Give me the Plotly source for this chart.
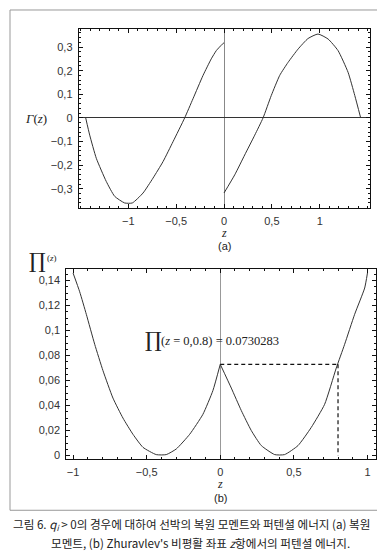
import plotly.graph_objects as go

# ---------------- data ----------------
# (a) restoring moment Gamma(z), two branches (jump at z = 0)
Z_GAMMA_NEG = [-1.445, -1.403, -1.334, -1.230, -1.142, -1.038, -0.958, -0.846, -0.742,
               -0.637, -0.533, -0.411, -0.324, -0.219, -0.133, -0.080, -0.018, 0.0]
GAMMA_NEG = [0.0, -0.073, -0.171, -0.269, -0.332, -0.360, -0.360, -0.318, -0.255,
             -0.185, -0.101, 0.0, 0.081, 0.180, 0.250, 0.285, 0.312, 0.318]
Z_GAMMA_POS = [0.0, 0.112, 0.216, 0.321, 0.408, 0.494, 0.582, 0.669, 0.773,
               0.878, 0.982, 1.087, 1.191, 1.296, 1.366, 1.428]
GAMMA_POS = [-0.318, -0.241, -0.157, -0.073, 0.0, 0.095, 0.180, 0.235, 0.291,
             0.336, 0.355, 0.334, 0.285, 0.193, 0.095, 0.0]

# (b) potential energy Pi(z), two branches (cusp at z = 0)
Z_PI_NEG = [-1.0, -0.955, -0.910, -0.853, -0.797, -0.729, -0.661, -0.593, -0.525,
            -0.435, -0.367, -0.299, -0.208, -0.118, -0.050, 0.0]
PI_NEG = [0.146, 0.131, 0.113, 0.089, 0.068, 0.046, 0.030, 0.017, 0.0066,
          0.0008, 0.0008, 0.0053, 0.017, 0.033, 0.052, 0.0730]
Z_PI_POS = [0.0, 0.075, 0.143, 0.211, 0.279, 0.370, 0.437, 0.528, 0.618,
            0.709, 0.788, 0.845, 0.913, 0.981, 1.0]
PI_POS = [0.0730, 0.054, 0.036, 0.020, 0.008, 0.0008, 0.0008, 0.008, 0.0225,
          0.041, 0.070, 0.089, 0.113, 0.134, 0.146]

PI_AT_ZERO = 0.0730283
Z_MARK = 0.8

# tick labels
GAMMA_X_TICKS = [-1, -0.5, 0, 0.5, 1]
GAMMA_X_LABELS = ["−1", "−0,5", "0", "0,5", "1"]
GAMMA_Y_TICKS = [-0.3, -0.2, -0.1, 0, 0.1, 0.2, 0.3]
GAMMA_Y_LABELS = ["−0,3", "−0,2", "−0,1", "0", "0,1", "0,2", "0,3"]
PI_X_TICKS = [-1, -0.5, 0, 0.5, 1]
PI_X_LABELS = ["−1", "−0,5", "0", "0,5", "1"]
PI_Y_TICKS = [0, 0.02, 0.04, 0.06, 0.08, 0.1, 0.12, 0.14]
PI_Y_LABELS = ["0", "0,02", "0,04", "0,06", "0,08", "0,1", "0,12", "0,14"]

CAPTION_1 = "그림 6. <i>q<sub>i</sub></i> > 0의 경우에 대하여 선박의 복원 모멘트와 퍼텐셜 에너지 (a) 복원"
CAPTION_2 = "모멘트, (b) Zhuravlev's 비평활 좌표 <i>z</i>항에서의 퍼텐셜 에너지."

# ---------------- figure ----------------
W, H = 385, 556
CURVE = dict(color="#333333", width=1, shape="spline", smoothing=0.5)

fig = go.Figure()
fig.add_trace(go.Scatter(x=Z_GAMMA_NEG, y=GAMMA_NEG, mode="lines", line=CURVE, xaxis="x", yaxis="y"))
fig.add_trace(go.Scatter(x=Z_GAMMA_POS, y=GAMMA_POS, mode="lines", line=CURVE, xaxis="x", yaxis="y"))
fig.add_trace(go.Scatter(x=Z_PI_NEG, y=PI_NEG, mode="lines", line=CURVE, xaxis="x2", yaxis="y2"))
fig.add_trace(go.Scatter(x=Z_PI_POS, y=PI_POS, mode="lines", line=CURVE, xaxis="x2", yaxis="y2"))
DASH = dict(color="#111111", width=1.2, dash="4px,3px")
fig.add_trace(go.Scatter(x=[0, Z_MARK], y=[PI_AT_ZERO, PI_AT_ZERO], mode="lines", line=DASH,
                         xaxis="x2", yaxis="y2"))
fig.add_trace(go.Scatter(x=[Z_MARK, Z_MARK], y=[PI_AT_ZERO, 0], mode="lines", line=DASH,
                         xaxis="x2", yaxis="y2"))

TICKFONT = dict(family="Liberation Sans, Arial, sans-serif", size=11, color="#333333")


def frame_axis(**kw):
    base = dict(showline=True, linecolor="#111111", linewidth=1, mirror="allticks",
                ticks="inside", ticklen=4, tickcolor="#111111", tickwidth=1,
                tickmode="array", tickfont=TICKFONT, showgrid=False, fixedrange=True,
                ticklabelstandoff=3)
    base.update(kw)
    return base


fig.update_layout(
    width=W, height=H, margin=dict(l=0, r=0, t=0, b=0),
    paper_bgcolor="white", plot_bgcolor="white", showlegend=False,
    xaxis=frame_axis(domain=[70.7 / W, 361.7 / W], range=[-1.518, 1.522], anchor="y",
                     tickvals=GAMMA_X_TICKS, ticktext=GAMMA_X_LABELS,
                     zeroline=True, zerolinecolor="#888888", zerolinewidth=1,
                     minor=dict(ticks="inside", ticklen=2, tickcolor="#111111", tick0=0, dtick=0.1)),
    yaxis=frame_axis(domain=[1 - 201 / H, 1 - 20.7 / H], range=[-0.381, 0.378], anchor="x",
                     tickvals=GAMMA_Y_TICKS, ticktext=GAMMA_Y_LABELS,
                     zeroline=True, zerolinecolor="#333333", zerolinewidth=1,
                     minor=dict(ticks="inside", ticklen=2, tickcolor="#111111", tick0=0, dtick=0.02)),
    xaxis2=frame_axis(domain=[58.3 / W, 367.7 / W], range=[-1.046, 1.056], anchor="y2",
                      tickvals=PI_X_TICKS, ticktext=PI_X_LABELS,
                      zeroline=True, zerolinecolor="#999999", zerolinewidth=1,
                      minor=dict(ticks="inside", ticklen=2, tickcolor="#111111", tick0=0, dtick=0.1)),
    yaxis2=frame_axis(domain=[1 - 453.3 / H, 1 - 262.7 / H], range=[-0.0026, 0.149], anchor="x2",
                      tickvals=PI_Y_TICKS, ticktext=PI_Y_LABELS, zeroline=False,
                      minor=dict(ticks="inside", ticklen=2, tickcolor="#111111", tick0=0, dtick=0.005)),
)

SERIF = "Liberation Serif, DejaVu Serif, serif"
SANS = "Liberation Sans, Arial, sans-serif"


def px_note(text, x, y, size, family, xanchor="center", color="#222222"):
    fig.add_annotation(text=text, x=x / W, y=1 - y / H, xref="paper", yref="paper",
                       xanchor=xanchor, yanchor="middle", showarrow=False, borderpad=0,
                       font=dict(family=family, size=size, color=color))


# axis titles and panel labels
px_note("<i>Γ</i>(<i>z</i>)", 27.5, 111, 13, SERIF)
px_note("<i>z</i>", 216, 226, 12, SERIF)
px_note("(a)", 216, 239.5, 11, SANS)
px_note("∏", 29.7, 254, 21, "DejaVu Serif, serif")
px_note("(<i>z</i>)", 44, 251, 9, SERIF)
px_note("<i>z</i>", 212.3, 479, 12, SERIF)
px_note("(b)", 212.3, 493, 11, SANS)

# value annotation inside panel (b)
px_note("∏", 145.5, 334, 21, "DejaVu Serif, serif")
px_note(f"(<i>z</i> = 0,{Z_MARK}) = {PI_AT_ZERO}", 152, 335, 12.5, SERIF, xanchor="left")

# caption
CAP_FONT = "Noto Sans CJK KR, sans-serif"
px_note(CAPTION_1, 4, 519, 11.6, CAP_FONT, xanchor="left")
px_note(CAPTION_2, 192.5, 538, 11.6, CAP_FONT)

# outer border of the figure box
fig.add_shape(type="rect", xref="paper", yref="paper",
              x0=2 / W, x1=380 / W, y0=1 - 505 / H, y1=1 - 2 / H,
              line=dict(color="#999999", width=1), fillcolor="rgba(0,0,0,0)", layer="below")

fig.write_html("out.html")
